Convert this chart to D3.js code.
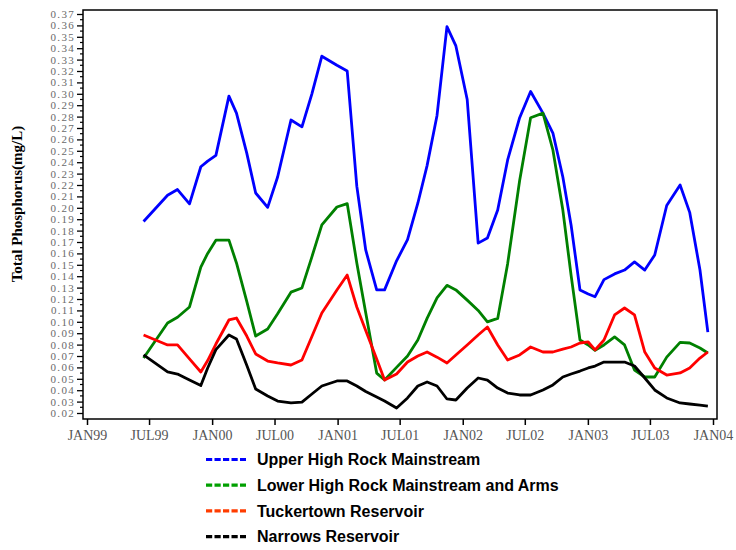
<!DOCTYPE html>
<html>
<head>
<meta charset="utf-8">
<script src="https://cdn.jsdelivr.net/npm/d3@7"></script>
<style>
body { margin: 0; background: #fff; }
</style>
</head>
<body>
<div id="chart"></div>
<script>
// sampling dates (shared by all four stations)
const sampleDates = [
  "1999-06-15","1999-08-24","1999-09-22","1999-10-27","1999-11-29","1999-12-19",
  "2000-01-12","2000-02-19","2000-03-12","2000-04-11","2000-05-07","2000-06-11",
  "2000-07-10","2000-08-18","2000-09-19","2000-10-18","2000-11-16","2000-12-30",
  "2001-01-29","2001-02-26","2001-03-24","2001-04-25","2001-05-18","2001-06-22",
  "2001-07-24","2001-08-23","2001-09-19","2001-10-18","2001-11-16","2001-12-12",
  "2002-01-14","2002-02-15","2002-03-14","2002-04-13","2002-05-12","2002-06-16",
  "2002-07-18","2002-08-23","2002-09-21","2002-10-20","2002-11-13","2002-12-09",
  "2003-01-02","2003-01-22","2003-02-17","2003-03-20","2003-04-18","2003-05-17",
  "2003-06-16","2003-07-15","2003-08-19","2003-09-27","2003-10-25","2003-11-24",
  "2003-12-17"
]

const upperHighRock = [
  0.188,0.211,0.216,0.2035,0.236,0.241,
  0.246,0.298,0.283,0.248,0.213,0.2004,
  0.227,0.277,0.271,0.300,0.333,0.325,
  0.320,0.219,0.163,0.128,0.128,0.1535,
  0.172,0.204,0.237,0.281,0.359,0.342,
  0.295,0.169,0.1735,0.198,0.242,0.279,
  0.302,0.283,0.2656,0.227,0.185,0.128,
  0.1244,0.122,0.137,0.142,0.1454,0.1525,
  0.1454,0.1586,0.202,0.220,0.196,0.1454,
  0.091
]

const lowerHighRock = [
  0.0682,0.099,0.104,0.113,0.148,0.160,
  0.1716,0.1716,0.1516,0.118,0.0875,0.0937,
  0.107,0.126,0.1297,0.157,0.185,0.2007,
  0.2037,0.1516,0.108,0.055,0.049,0.060,
  0.070,0.084,0.103,0.121,0.132,0.128,
  0.119,0.110,0.100,0.103,0.151,0.224,
  0.279,0.283,0.2507,0.198,0.141,0.084,
  0.0797,0.075,0.0797,0.0867,0.0797,0.0577,
  0.0516,0.0516,0.069,0.082,0.0814,0.077,
  0.0726
]

const tuckertown = [
  0.0884,0.0797,0.0797,0.0674,0.056,0.066,
  0.0805,0.1016,0.1033,0.0875,0.0718,0.0656,
  0.0639,0.0621,0.0665,0.0871,0.1077,0.1279,
  0.141,0.113,0.0924,0.0674,0.049,0.0542,
  0.0647,0.070,0.0735,0.069,0.0639,0.0709,
  0.0797,0.0884,0.0954,0.0797,0.0665,0.0709,
  0.0779,0.0735,0.0735,0.0761,0.0779,0.0814,
  0.0823,0.0753,0.084,0.106,0.1121,0.106,
  0.0735,0.0595,0.0533,0.0551,0.0595,0.0682,
  0.0735
]

const narrows = [
  0.0709,0.056,0.0542,0.0489,0.0441,0.0595,
  0.0756,0.0884,0.0849,0.0618,0.041,0.0349,
  0.0305,0.0288,0.0296,0.0367,0.0437,0.0481,
  0.0481,0.0437,0.0389,0.034,0.0305,0.0244,
  0.0332,0.0437,0.0472,0.0437,0.0323,0.0314,
  0.0419,0.0507,0.0489,0.0419,0.0375,0.0358,
  0.0358,0.0402,0.0446,0.0516,0.0542,0.0568,
  0.0595,0.0612,0.0647,0.0647,0.0647,0.0612,
  0.0507,0.0402,0.0332,0.0288,0.0279,0.027,
  0.0261
]

const seriesNames = [
  "Upper High Rock Mainstream",
  "Lower High Rock Mainstream and Arms",
  "Tuckertown Reservoir",
  "Narrows Reservoir"
]
const lineColors = ["#0000ff", "#008000", "#ff0000", "#000000"]
const legendColors = ["#0000ff", "#00a000", "#ff3c00", "#000000"]

const xTickDates = ["1999-01-01","1999-07-01","2000-01-01","2000-07-01","2001-01-01",
  "2001-07-01","2002-01-01","2002-07-01","2003-01-01","2003-07-01","2004-01-01"]

const width = 736
const height = 550
const parse = d3.timeParse("%Y-%m-%d")

const svg = d3.select("#chart").append("svg")
  .attr("width", width)
  .attr("height", height)

const x = d3.scaleTime()
  .domain([parse("1999-01-01"), parse("2004-01-01")])
  .range([87, 713])

const y = d3.scaleLinear()
  .domain([0.02, 0.37])
  .range([413, 14])

// frame
svg.append("rect")
  .attr("x", 83).attr("y", 10)
  .attr("width", 717 - 83).attr("height", 419 - 10)
  .attr("fill", "none")
  .attr("stroke", "#000")
  .attr("stroke-width", 1.5)

// y axis, every 0.01 labelled, half-steps as minor ticks
const yAxis = svg.append("g")
  .attr("transform", "translate(83,0)")
  .call(d3.axisLeft(y)
    .tickValues(d3.range(2, 38).map(d => d / 100))
    .tickFormat(d3.format(".2f"))
    .tickSize(6)
    .tickPadding(2))
yAxis.select(".domain").remove()
yAxis.selectAll("line").attr("stroke", "#000").attr("stroke-width", 1.3)
yAxis.selectAll("text")
  .attr("fill", "#6a6a6a")
  .style("font-family", "'Liberation Serif', 'DejaVu Serif', serif")
  .style("font-size", "11px")
  .style("letter-spacing", "1.3px")

svg.append("g")
  .selectAll("line")
  .data(d3.range(2, 37).map(d => d / 100 + 0.005))
  .enter()
  .append("line")
  .attr("x1", 80).attr("x2", 83)
  .attr("y1", d => y(d)).attr("y2", d => y(d))
  .attr("stroke", "#000")
  .attr("stroke-width", 1.2)

svg.append("text")
  .attr("transform", "translate(22,204) rotate(-90)")
  .style("text-anchor", "middle")
  .style("font-family", "'Liberation Serif', serif")
  .style("font-weight", "bold")
  .style("font-size", "15px")
  .text("Total Phosphorus(mg/L)")

// x axis
const fmt = d3.timeFormat("%b%y")
const xAxis = svg.append("g")
  .attr("transform", "translate(0,419)")
  .call(d3.axisBottom(x)
    .tickValues(xTickDates.map(parse))
    .tickFormat(d => fmt(d).toUpperCase())
    .tickSize(6)
    .tickPadding(5))
xAxis.select(".domain").remove()
xAxis.selectAll("line").attr("stroke", "#000").attr("stroke-width", 1.5)
xAxis.selectAll("text")
  .attr("fill", "#555")
  .style("font-family", "'Liberation Serif', serif")
  .style("font-size", "14px")

// lines
const allSeries = [upperHighRock, lowerHighRock, tuckertown, narrows]
const line = d3.line()
  .x(d => x(d[0]))
  .y(d => y(d[1]))

allSeries.forEach(function(vals, i) {
  svg.append("path")
    .datum(d3.zip(sampleDates.map(parse), vals))
    .attr("d", line)
    .attr("fill", "none")
    .attr("stroke", lineColors[i])
    .attr("stroke-width", 2.8)
    .attr("stroke-linejoin", "round")
})

// legend
const legend = svg.append("g")
  .selectAll("g")
  .data(seriesNames)
  .enter()
  .append("g")
  .attr("transform", (d, i) => "translate(0," + (459.5 + i * 25.7) + ")")

legend.append("line")
  .attr("x1", 206).attr("x2", 246)
  .attr("stroke", (d, i) => legendColors[i])
  .attr("stroke-width", 3.2)
  .attr("stroke-dasharray", "6.2,2.3")

legend.append("text")
  .attr("x", 257)
  .attr("dy", "0.36em")
  .style("font-family", "'Liberation Sans', Arial, sans-serif")
  .style("font-weight", "bold")
  .style("font-size", "16px")
  .text(d => d)
</script>
</body>
</html>
